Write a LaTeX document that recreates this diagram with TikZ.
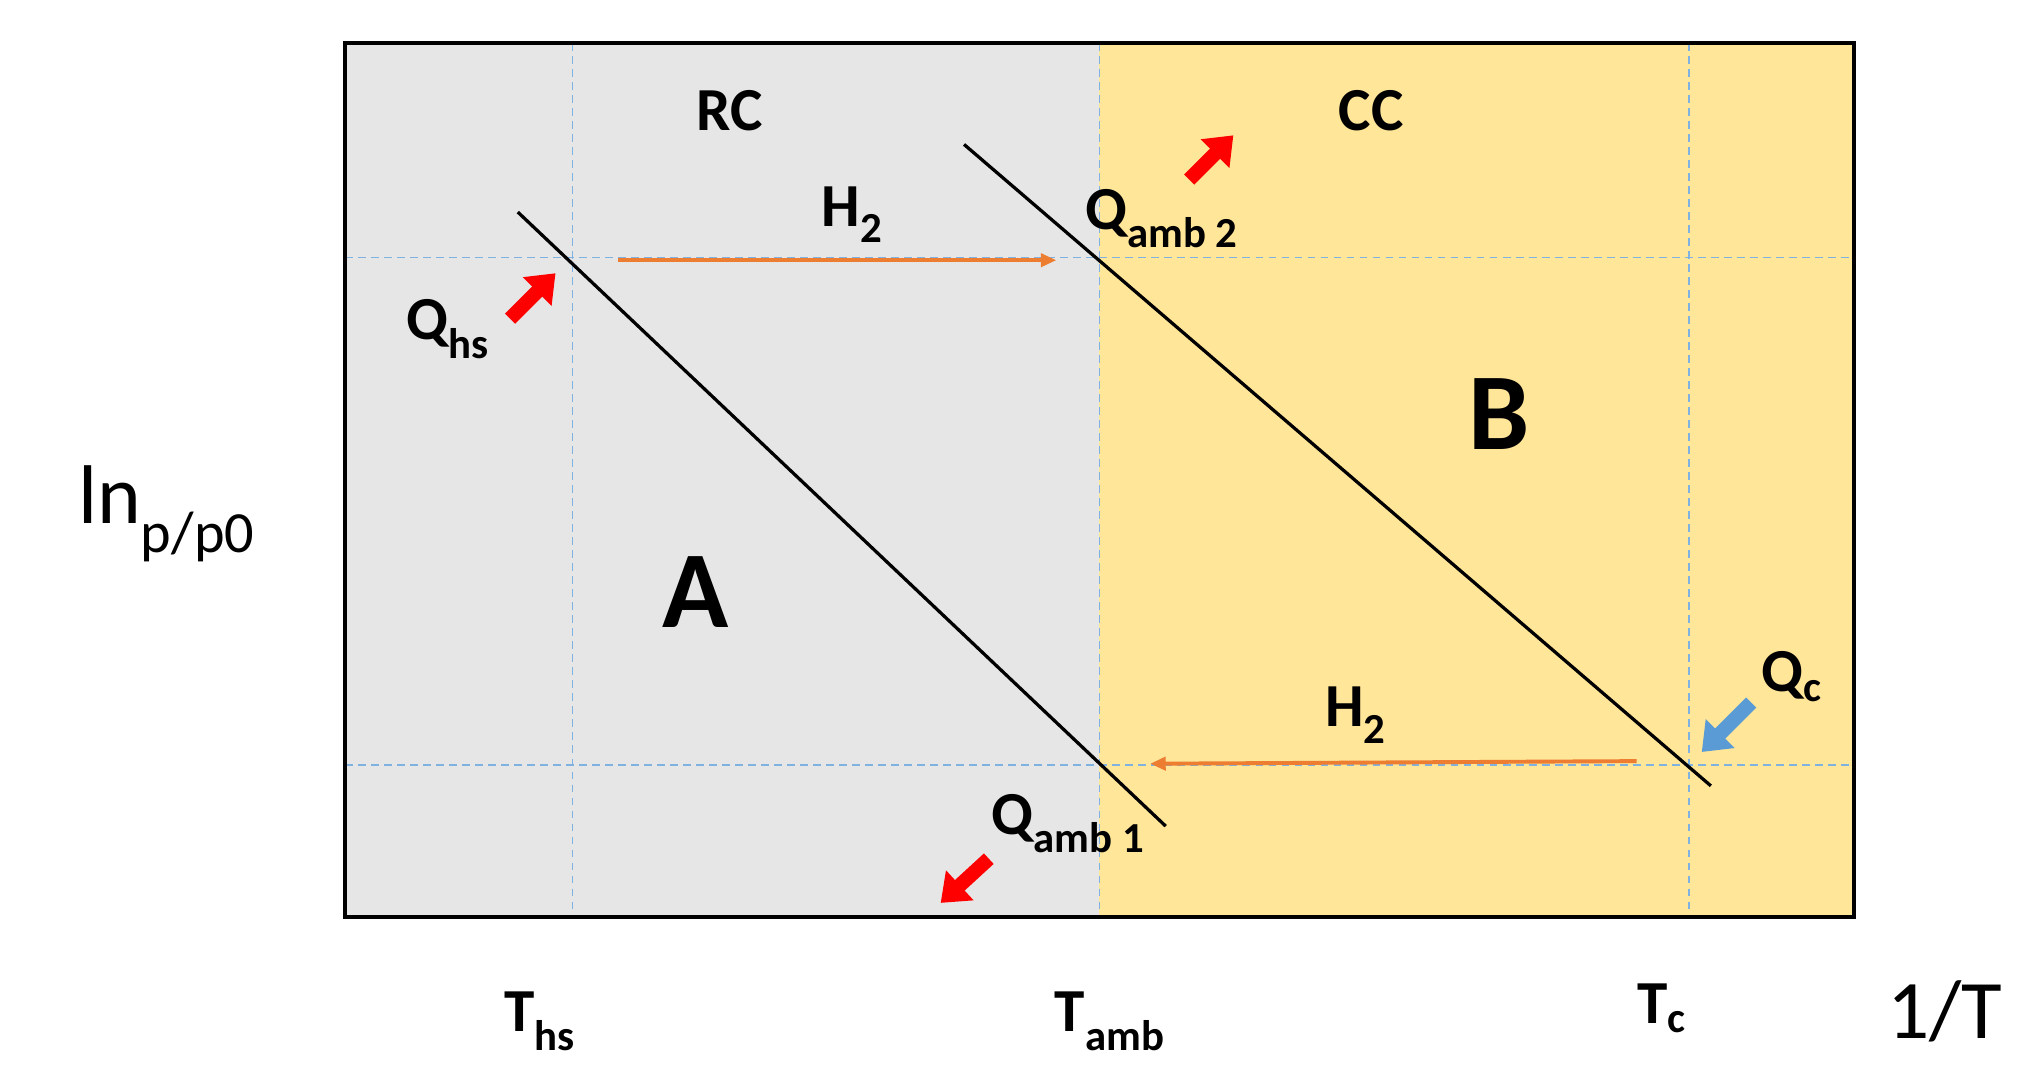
\documentclass[tikz,border=0pt]{standalone}
\usepackage{fontspec}
\setmainfont{Carlito}
\usetikzlibrary{arrows.meta}
\definecolor{gbg}{HTML}{E6E6E6}
\definecolor{ybg}{HTML}{FFE699}
\definecolor{dashcol}{HTML}{7FB2E0}
\definecolor{org}{HTML}{ED7D31}
\definecolor{blu}{HTML}{5B9BD5}
\begin{document}
\begin{tikzpicture}[x=1pt,y=-1pt,
  dsh/.style={draw=dashcol, dash pattern=on 6pt off 4pt, line width=1.3pt},
  iso/.style={black, line width=2.5pt},
  flow/.style={org, line width=3pt, -{Triangle[length=12pt,width=10pt]}},
  heat/.style={line width=11pt, -{Triangle[length=20pt,width=30pt]}},
  lbl/.style={font=\fontsize{47}{52}\selectfont\bfseries, inner sep=0pt},
  big/.style={font=\fontsize{84}{90}\selectfont\bfseries, inner sep=0pt}]
\useasboundingbox (0,0) rectangle (1568,833);
\fill[gbg] (265,33) rectangle (845,705);
\fill[ybg] (845,33) rectangle (1425,705);
\draw[dsh] (440,33) -- (440,705);
\draw[dsh] (845,33) -- (845,705);
\draw[dsh] (1298,33) -- (1298,705);
\draw[dsh] (265,198) -- (1425,198);
\draw[dsh] (265,588) -- (1425,588);
\draw[line width=3pt] (265,33) rectangle (1425,705);
\coordinate (a1) at (398,163); \coordinate (a2) at (896,635);
\coordinate (b1) at (741,111); \coordinate (b2) at (1315,604);
\draw[iso] (a1) -- (a2);
\draw[iso] (b1) -- (b2);
\coordinate (h1s) at (475,200); \coordinate (h1e) at (812,200);
\coordinate (h2s) at (1258,585); \coordinate (h2e) at (884,587);
\draw[flow] (h1s) -- (h1e);
\draw[flow] (h2s) -- (h2e);
\coordinate (r1s) at (392,245); \coordinate (r1e) at (427,210);
\coordinate (r2s) at (914,138); \coordinate (r2e) at (948,104);
\coordinate (r3s) at (760,660); \coordinate (r3e) at (723,694);
\coordinate (c1s) at (1346,540); \coordinate (c1e) at (1308,578);
\draw[heat, red] (r1s) -- (r1e);
\draw[heat, red] (r2s) -- (r2e);
\draw[heat, red] (r3s) -- (r3e);
\draw[heat, blu] (c1s) -- (c1e);
\node[lbl] (rc) at (561,85) {RC};
\node[lbl] (cc) at (1054,85) {CC};
\node[lbl] (ht) at (655,165) {H\textsubscript{2}};
\node[lbl] (hb) at (1042,550) {H\textsubscript{2}};
\node[lbl] (qa2) at (893,168) {Q\textsubscript{amb 2}};
\node[lbl] (qhs) at (344,253) {Q\textsubscript{hs}};
\node[lbl] (qa1) at (821,633) {Q\textsubscript{amb 1}};
\node[lbl] (qc) at (1377,520) {Q\textsubscript{c}};
\node[big] (A) at (535,455) {A};
\node[big] (B) at (1152,318) {B};
\node[inner sep=0pt, font=\fontsize{64}{70}\selectfont] (ln) at (128,395) {ln\textsubscript{p/p0}};
\node[lbl] (ths) at (415,785) {T\textsubscript{hs}};
\node[lbl] (tamb) at (853,785) {T\textsubscript{amb}};
\node[lbl] (tc) at (1277,775) {T\textsubscript{c}};
\node[inner sep=0pt, font=\fontsize{64}{70}\selectfont] (it) at (1495,777) {1/T};
\end{tikzpicture}
\end{document}
